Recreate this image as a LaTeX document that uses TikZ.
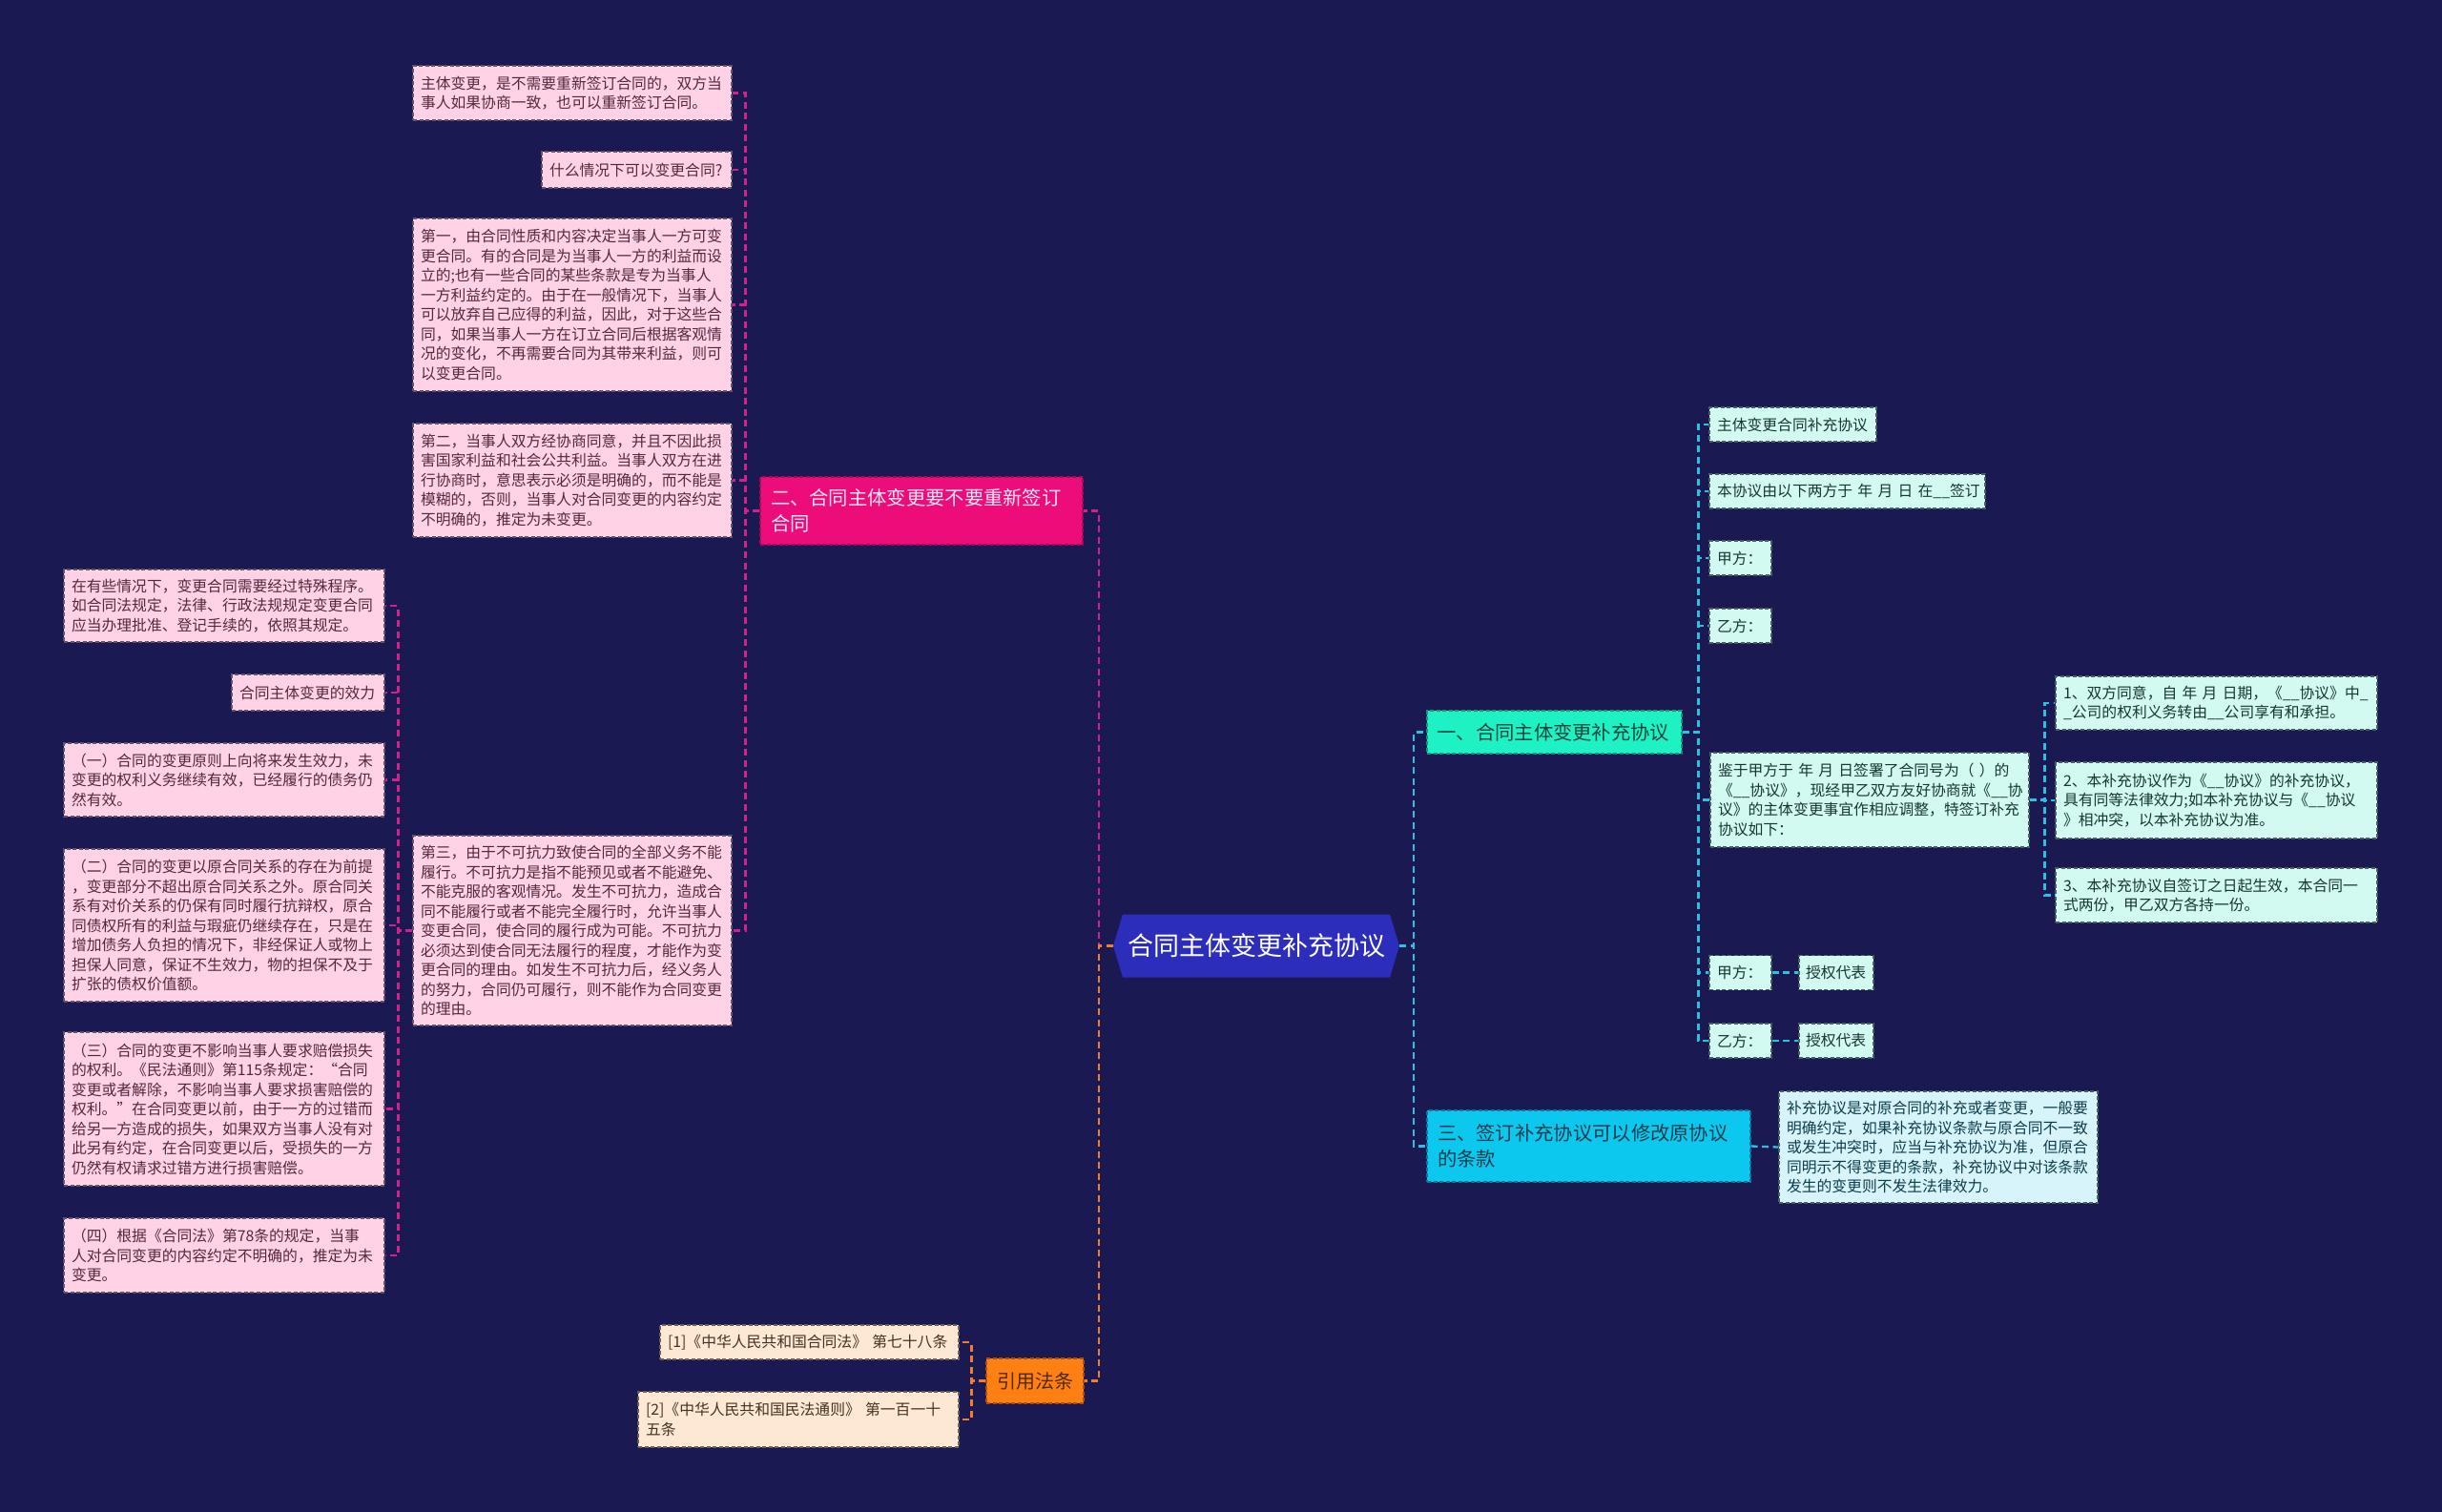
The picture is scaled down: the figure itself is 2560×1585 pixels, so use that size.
\documentclass[tikz,border=0pt]{standalone}
\usepackage{fontspec}
\setmainfont{Noto Sans CJK SC}
\definecolor{bg}{RGB}{27,25,82}
\definecolor{pinkfill}{RGB}{255,210,230}
\definecolor{pinktext}{RGB}{85,40,65}
\definecolor{leafborder}{RGB}{95,85,100}
\definecolor{leafborderB}{RGB}{70,95,95}
\definecolor{leafborderC}{RGB}{110,95,85}
\definecolor{magfill}{RGB}{236,12,122}
\definecolor{magborder}{RGB}{170,10,90}
\definecolor{magtext}{RGB}{255,228,242}
\definecolor{colM}{RGB}{212,32,138}
\definecolor{cfill}{RGB}{44,45,186}
\definecolor{oranfill}{RGB}{255,128,18}
\definecolor{oranborder}{RGB}{170,80,10}
\definecolor{orantext}{RGB}{80,40,10}
\definecolor{peach}{RGB}{253,232,212}
\definecolor{peachtext}{RGB}{70,50,35}
\definecolor{colO}{RGB}{242,125,45}
\definecolor{turq}{RGB}{30,242,196}
\definecolor{turqborder}{RGB}{20,150,120}
\definecolor{turqtext}{RGB}{20,70,60}
\definecolor{mint}{RGB}{210,250,240}
\definecolor{minttext}{RGB}{25,55,50}
\definecolor{cyanfill}{RGB}{12,200,238}
\definecolor{cyanborder}{RGB}{10,120,150}
\definecolor{cyantext}{RGB}{15,60,75}
\definecolor{lightcyan}{RGB}{214,244,250}
\definecolor{colC}{RGB}{45,192,226}
\begin{document}
\begin{tikzpicture}[x=1pt,y=-1pt,
  conn/.style={line width=2.3pt, dash pattern=on 7pt off 4.5pt},
  mline/.style={conn, draw=colM},
  oline/.style={conn, draw=colO},
  cline/.style={conn, draw=colC},
  box/.style={rectangle, inner sep=0pt, align=left, line width=1.1pt, dash pattern=on 4pt off 2.5pt},
  small/.style={font=\fontsize{15.8}{20.5}\selectfont},
  big/.style={font=\fontsize{20.3}{27}\selectfont},
  pleaf/.style={box, small, fill=pinkfill, draw=leafborder, text=pinktext},
  mleaf/.style={box, small, fill=mint, draw=leafborderB, text=minttext},
  cleaf/.style={box, small, fill=lightcyan, draw=leafborderB, text=cyantext},
  eleaf/.style={box, small, fill=peach, draw=leafborderC, text=peachtext},
  sz/.style n args={3}{minimum width=#1pt, minimum height=#2pt, text width=#3pt},
]
\fill[bg] (0,0) rectangle (2560,1585);
\useasboundingbox (0,0) rectangle (2560,1585);

% ---------- centre ----------
\fill[cfill] (1167,991.5) -- (1177,958.5) -- (1457,958.5) -- (1467,991.5) -- (1457,1024.5) -- (1177,1024.5) -- cycle;
\node[text=white, font=\fontsize{27}{32}\selectfont, minimum width=300pt, minimum height=66pt, inner sep=0pt] (c) at (1317,991.5) {合同主体变更补充协议};

% ---------- branch two ----------
\node[box, big, fill=magfill, draw=magborder, text=magtext, sz={338}{71}{316}] (n2) at (966,535.5) {二、合同主体变更要不要重新签订\\合同};

\node[pleaf, sz={334}{57}{318}] (a1) at (600,97.5) {主体变更，是不需要重新签订合同的，双方当\\事人如果协商一致，也可以重新签订合同。};
\node[pleaf, sz={199}{38}{183}] (a2) at (667.5,178) {什么情况下可以变更合同?};
\node[pleaf, sz={334}{181}{318}] (a3) at (600,319.5) {第一，由合同性质和内容决定当事人一方可变\\更合同。有的合同是为当事人一方的利益而设\\立的;也有一些合同的某些条款是专为当事人\\一方利益约定的。由于在一般情况下，当事人\\可以放弃自己应得的利益，因此，对于这些合\\同，如果当事人一方在订立合同后根据客观情\\况的变化，不再需要合同为其带来利益，则可\\以变更合同。};
\node[pleaf, sz={334}{119}{318}] (a4) at (600,503.5) {第二，当事人双方经协商同意，并且不因此损\\害国家利益和社会公共利益。当事人双方在进\\行协商时，意思表示必须是明确的，而不能是\\模糊的，否则，当事人对合同变更的内容约定\\不明确的，推定为未变更。};
\node[pleaf, sz={334}{199}{318}] (a5) at (600,975.5) {第三，由于不可抗力致使合同的全部义务不能\\履行。不可抗力是指不能预见或者不能避免、\\不能克服的客观情况。发生不可抗力，造成合\\同不能履行或者不能完全履行时，允许当事人\\变更合同，使合同的履行成为可能。不可抗力\\必须达到使合同无法履行的程度，才能作为变\\更合同的理由。如发生不可抗力后，经义务人\\的努力，合同仍可履行，则不能作为合同变更\\的理由。};

\node[pleaf, sz={336}{76}{320}] (b1) at (235,635) {在有些情况下，变更合同需要经过特殊程序。\\如合同法规定，法律、行政法规规定变更合同\\应当办理批准、登记手续的，依照其规定。};
\node[pleaf, sz={160}{38}{144}] (b2) at (323,726) {合同主体变更的效力};
\node[pleaf, sz={336}{77}{320}] (b3) at (235,817.5) {（一）合同的变更原则上向将来发生效力，未\\变更的权利义务继续有效，已经履行的债务仍\\然有效。};
\node[pleaf, sz={336}{160}{320}] (b4) at (235,970) {（二）合同的变更以原合同关系的存在为前提\\，变更部分不超出原合同关系之外。原合同关\\系有对价关系的仍保有同时履行抗辩权，原合\\同债权所有的利益与瑕疵仍继续存在，只是在\\增加债务人负担的情况下，非经保证人或物上\\担保人同意，保证不生效力，物的担保不及于\\扩张的债权价值额。};
\node[pleaf, sz={336}{161}{320}] (b5) at (235,1162.5) {（三）合同的变更不影响当事人要求赔偿损失\\的权利。《民法通则》第115条规定：“合同\\变更或者解除，不影响当事人要求损害赔偿的\\权利。”在合同变更以前，由于一方的过错而\\给另一方造成的损失，如果双方当事人没有对\\此另有约定，在合同变更以后，受损失的一方\\仍然有权请求过错方进行损害赔偿。};
\node[pleaf, sz={336}{78}{320}] (b6) at (235,1316) {（四）根据《合同法》第78条的规定，当事\\人对合同变更的内容约定不明确的，推定为未\\变更。};

% ---------- citations ----------
\node[box, fill=oranfill, draw=oranborder, text=orantext, font=\fontsize{20}{24}\selectfont, align=center, minimum width=102pt, minimum height=47pt] (cite) at (1085,1447.5) {引用法条};
\node[eleaf, sz={313}{36}{297}] (l1) at (848.5,1407) {[1]《中华人民共和国合同法》~第七十八条};
\node[eleaf, sz={336}{58}{320}] (l2) at (837,1488) {[2]《中华人民共和国民法通则》~第一百一十\\五条};

% ---------- branch one ----------
\node[box, big, fill=turq, draw=turqborder, text=turqtext, sz={267}{45}{246}] (n1) at (1629.5,767.5) {一、合同主体变更补充协议};
\node[mleaf, sz={175}{36}{159}] (r1) at (1879.5,445) {主体变更合同补充协议};
\node[mleaf, sz={289}{36}{273}] (r2) at (1936.5,515) {本协议由以下两方于~年~月~日~在\_\_签订};
\node[mleaf, sz={65}{36}{49}] (r3) at (1824.5,585) {甲方：};
\node[mleaf, sz={65}{36}{49}] (r4) at (1824.5,656) {乙方：};
\node[mleaf, sz={334}{99}{318}] (r5) at (1960,838.5) {鉴于甲方于~年~月~日签署了合同号为（~）的\\《\_\_协议》，现经甲乙双方友好协商就《\_\_协\\议》的主体变更事宜作相应调整，特签订补充\\协议如下：};
\node[mleaf, sz={65}{36}{49}] (r6) at (1824.5,1019.5) {甲方：};
\node[mleaf, sz={65}{36}{49}] (r7) at (1824.5,1091) {乙方：};
\node[mleaf, sz={78}{36}{64}] (r8) at (1925,1019.5) {授权代表};
\node[mleaf, sz={78}{36}{64}] (r9) at (1925,1091) {授权代表};
\node[mleaf, sz={337}{56}{321}] (s1) at (2323.5,737) {1、双方同意，自~年~月~日期，《\_\_协议》中\_\\\_公司的权利义务转由\_\_公司享有和承担。};
\node[mleaf, sz={337}{80}{321}] (s2) at (2323.5,839) {2、本补充协议作为《\_\_协议》的补充协议，\\具有同等法律效力;如本补充协议与《\_\_协议\\》相冲突，以本补充协议为准。};
\node[mleaf, sz={337}{57}{321}] (s3) at (2323.5,938.5) {3、本补充协议自签订之日起生效，本合同一\\式两份，甲乙双方各持一份。};

% ---------- branch three ----------
\node[box, big, fill=cyanfill, draw=cyanborder, text=cyantext, sz={339}{75}{317}] (n3) at (1665.5,1201.5) {三、签订补充协议可以修改原协议\\的条款};
\node[cleaf, sz={334}{117}{318}] (t1) at (2032,1202.5) {补充协议是对原合同的补充或者变更，一般要\\明确约定，如果补充协议条款与原合同不一致\\或发生冲突时，应当与补充协议为准，但原合\\同明示不得变更的条款，补充协议中对该条款\\发生的变更则不发生法律效力。};

% ---------- connectors ----------
\foreach \k in {a1,a2,a3,a4,a5} \draw[mline] (n2.west) -- ++(-15,0) |- (\k.east);
\foreach \k in {b1,b2,b3,b4,b5,b6} \draw[mline] (a5.west) -- ++(-15,0) |- (\k.east);
\draw[mline] (c.west) -- ++(-15,0) |- (n2.east);
\draw[oline] (c.west) -- ++(-15,0) |- (cite.east);
\foreach \k in {l1,l2} \draw[oline] (cite.west) -- ++(-15,0) |- (\k.east);
\draw[cline] (c.east) -- ++(15,0) |- (n1.west);
\draw[cline] (c.east) -- ++(15,0) |- (n3.west);
\foreach \k in {r1,r2,r3,r4,r5,r6,r7} \draw[cline] (n1.east) -- ++(17,0) |- (\k.west);
\foreach \k in {s1,s2,s3} \draw[cline] (r5.east) -- ++(16,0) |- (\k.west);
\draw[cline] (r6.east) -- (r8.west);
\draw[cline] (r7.east) -- (r9.west);
\draw[cline] (n3.east) -- (t1.west);
\end{tikzpicture}
\end{document}
